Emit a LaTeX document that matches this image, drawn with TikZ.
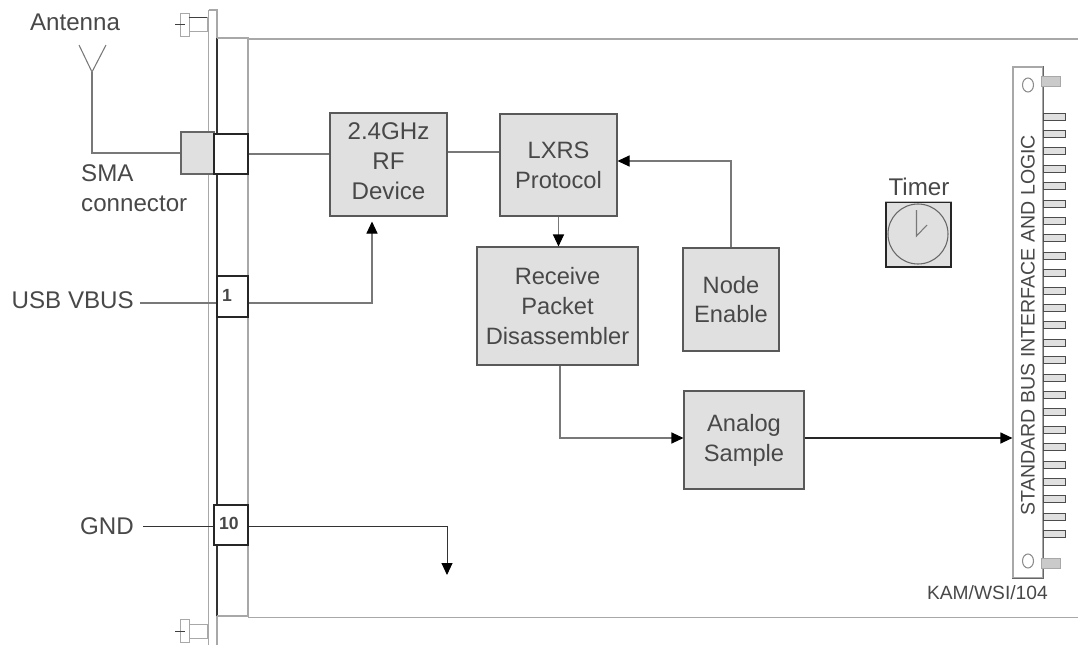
\documentclass[tikz,border=0pt]{standalone}
\usepackage{fontspec}
\setmainfont{Liberation Sans}
\usetikzlibrary{positioning,arrows.meta,calc,shapes.geometric}
\definecolor{blkgray}{HTML}{E0E0E0}
\definecolor{wiregray}{HTML}{787878}
\definecolor{edgegray}{HTML}{A8A8A8}
\definecolor{txtgray}{HTML}{484848}
\tikzset{
  sz/.style 2 args={minimum width=#1*0.03cm,minimum height=#2*0.03cm,inner sep=0pt},
  blk/.style={draw=black!65,fill=blkgray,line width=0.9pt,align=center,text=txtgray,
    font=\fontsize{20.2}{25.5}\selectfont},
  pinbox/.style={draw=black!85,fill=white,line width=1pt},
  lbl/.style={text=txtgray,font=\fontsize{20.6}{25.5}\selectfont,inner sep=0pt,align=left},
  pinlbl/.style={text=txtgray,font=\fontsize{15}{17}\bfseries\selectfont,inner sep=0pt},
  wire/.style={line width=0.9pt,wiregray},
  wirear/.style={wire,-{Stealth[length=12*0.03cm,width=11*0.03cm,inset=0pt,black]}},
  rail/.style={line width=1pt,edgegray},
  railk/.style={line width=1pt,black!80},
  conpin/.style={draw=black!70,fill=blkgray,line width=0.8pt,sz={22}{7}},
  bigpin/.style={draw=edgegray,fill=blkgray!90!black,line width=0.8pt,sz={19}{10}},
}
\begin{document}
\begin{tikzpicture}[x=0.03cm,y=-0.03cm]
  \useasboundingbox (0,0) rectangle (1078,645);
  % front panel and card outline
  \draw[rail] (208.5,10) -- (208.5,645);
  \draw[rail] (208.5,10) -- (217,10) -- (217,38);
  \draw[rail] (217,645) -- (217,616);
  \draw[railk] (217,38) -- (217,616);
  \draw[rail] (217,38) -- (248,38) -- (248,616) -- (217,616);
  \draw[rail] (248,39) -- (1078,39);
  \draw[rail] (248,617.5) -- (1078,617.5);
  % panel screws
  \foreach \sy/\sn in {24.5/top,631/bot}{
    \node[draw=edgegray,sz={9}{23},line width=0.8pt] (head\sn) at (184.5,\sy) {};
    \node[draw=edgegray,sz={18}{14},line width=0.8pt] (body\sn) at (198,\sy) {};
    \draw[line width=0.8pt,black!75] (175,\sy) -- (head\sn.center);
  }
  \draw[line width=0.8pt,black!75] (bodytop.north west) -- (bodytop.north east);
  % connector and pins on the panel
  \node[draw=black!60,fill=blkgray,line width=0.9pt,sz={33}{42}] (sma) at (197.5,153) {};
  \node[pinbox,sz={34}{40}] (smaout) at (231,154) {};
  \node[pinbox,sz={31}{41}] (pin1) at (232.5,296.5) {};
  \node[pinbox,sz={34}{40}] (pin10) at (231,525) {};
  \node[pinlbl] (pin1lbl) at (227,295) {1};
  \node[pinlbl] (pin10lbl) at (229,523) {10};
  % blocks
  \node[blk,sz={117}{103}] (rf) at (388.5,164.5) {};
  \node[lbl,align=center] (rflbl) at (388.5,161.5) {2.4GHz\\RF\\Device};
  \node[blk,sz={117}{102}] (lxrs) at (558.5,165) {LXRS\\Protocol};
  \node[blk,sz={161}{118}] (rcv) at (557.5,306) {Receive\\Packet\\Disassembler};
  \node[blk,sz={96}{103}] (nen) at (731,299.5) {Node\\Enable};
  \node[blk,sz={120}{98}] (ana) at (744,440) {Analog\\Sample};
  % timer
  \node[lbl] (tmrlbl) at (919,187) {Timer};
  \node[draw=black!85,fill=blkgray,line width=1pt,sz={65}{65}] (tmr) at (918.5,234.5) {};
  \draw[line width=1pt,blkgray!85!black] (tmr.north west) -- (tmr.north east);
  \node[draw=black!60,circle,line width=0.9pt,sz={60}{60}] (clk) at (918,234) {};
  \coordinate (hub) at (916.5,236);
  \draw[wire] (916.5,210) -- (hub) -- (927,225);
  % bus connector
  \node[draw=edgegray,fill=white,line width=1pt,sz={30}{511}] (bus) at (1028,322.5) {};
  \draw[railk,black!60] (bus.north east) -- (bus.south east) -- (bus.south west);
  \node[rotate=90,text=txtgray,font=\fontsize{16.7}{20}\selectfont,inner sep=0pt] (buslbl) at (1028,325) {STANDARD BUS INTERFACE AND LOGIC};
  \node[draw=black!45,ellipse,line width=0.9pt,sz={11}{14}] (holet) at (1028,85) {};
  \node[draw=black!45,ellipse,line width=0.9pt,sz={11}{14}] (holeb) at (1028,561) {};
  \node[bigpin] (pint) at (1050.5,81) {};
  \node[bigpin] (pinb) at (1050.5,563) {};
  \foreach \i in {0,...,24}
    \node[conpin] (bp\i) at (1054,116.5+17.4*\i) {};
  % labels
  \node[lbl] (antlbl) at (75,22) {Antenna};
  \node[lbl,anchor=west] (smalbl) at (81,188) {SMA\\connector};
  \node[lbl,anchor=east] (usblbl) at (134,300) {USB VBUS};
  \node[lbl,anchor=east] (gndlbl) at (134,526) {GND};
  \node[text=txtgray,font=\fontsize{16.4}{18}\selectfont,inner sep=0pt,anchor=east] (kamlbl) at (1048,593) {KAM/WSI/104};
  % antenna
  \coordinate (ant) at (92,72);
  \draw[wire] (79,45) -- (ant) -- (106,45);
  \draw[wire] (ant) |- (sma.west);
  % connectors
  \coordinate (usbin) at (140,303);
  \coordinate (gndin) at (143,526);
  \coordinate (gndout) at (447,575);
  \coordinate (anay) at (0,438);
  \draw[wire] (smaout.east) -- (rf.west |- smaout.east);
  \draw[wire] (rf.east |- 0,152) -- (lxrs.west |- 0,152);
  \draw[wirear] (lxrs.south) -- (rcv.north -| lxrs.south);
  \draw[wirear] (nen.north) |- (lxrs.east |- 0,161);
  \draw[wire] (usbin) -- (usbin -| pin1.west);
  \draw[wirear,shorten >=5*0.03cm] (pin1.east |- usbin) -| (372,0 |- rf.south);
  \draw[line width=0.8pt,black!80] (gndin) -- (gndin -| pin10.west);
  \draw[wirear,line width=0.8pt,black!80] (pin10.east |- gndin) -| (gndout);
  \draw[wirear] (560,0 |- rcv.south) |- (ana.west |- anay);
  \draw[wirear,line width=1pt,black!85] (ana.east |- anay) -- (bus.west |- anay);
\end{tikzpicture}
\end{document}
